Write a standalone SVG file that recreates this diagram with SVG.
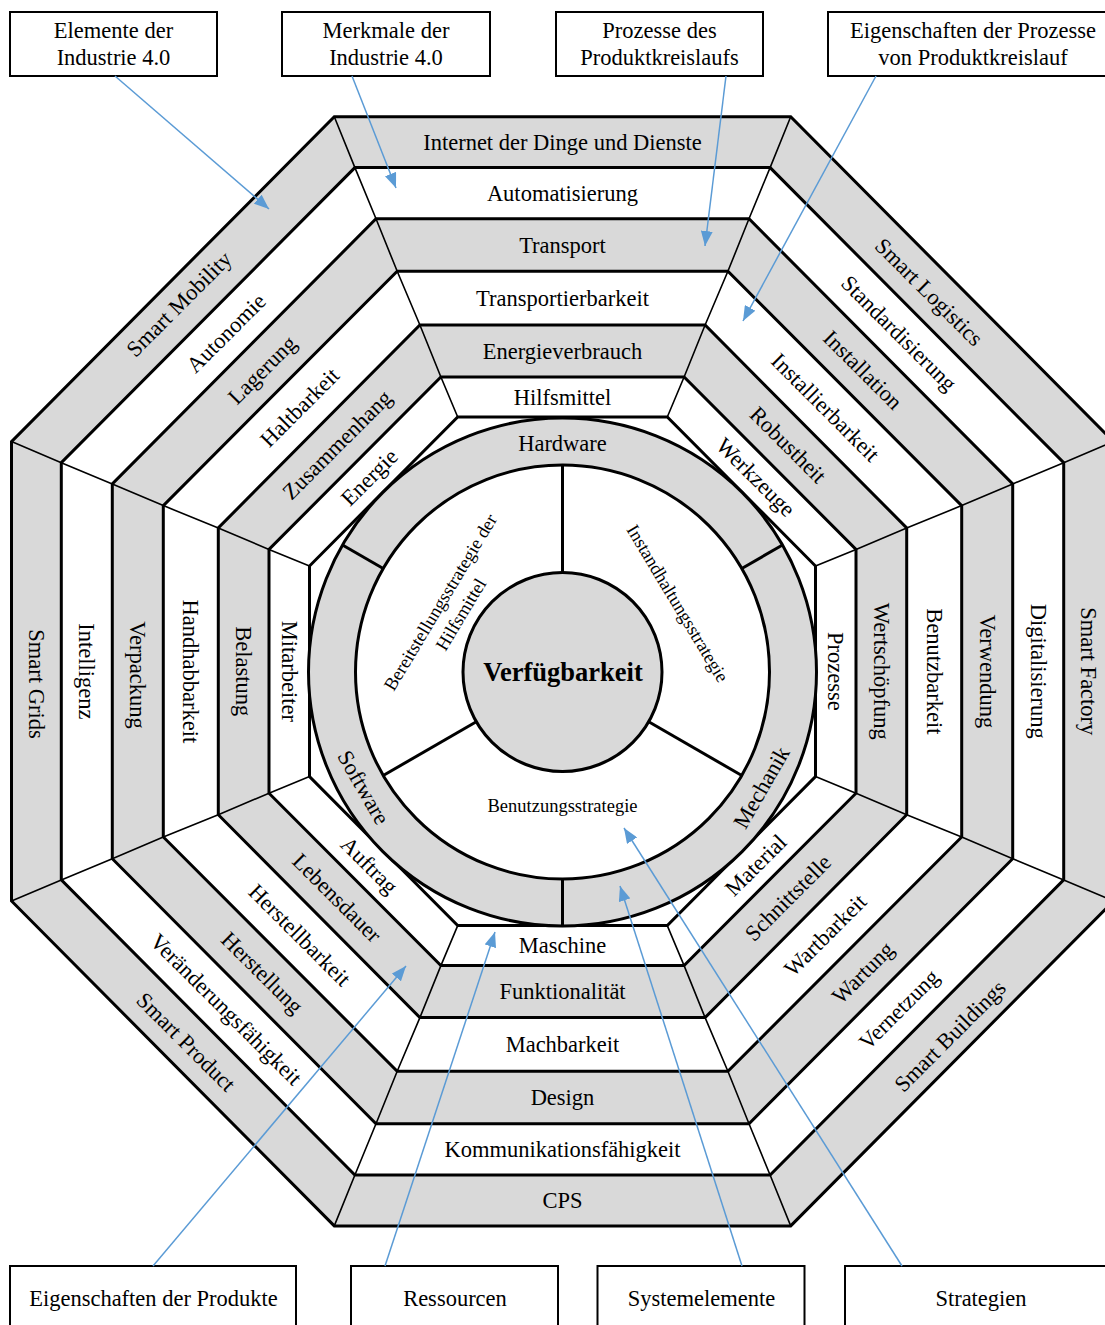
<svg xmlns="http://www.w3.org/2000/svg" width="1105" height="1325" viewBox="0 0 1105 1325">
  <defs>
    <marker id="arr" markerUnits="userSpaceOnUse" markerWidth="16" markerHeight="12" refX="15" refY="6" orient="auto">
      <path d="M0,0 L15,6 L0,12 z" fill="#5b9bd5"/>
    </marker>
    <style>
      .gray { fill:#d9d9d9; stroke:#000; stroke-width:3; stroke-linejoin:miter; }
      .white { fill:#fff; stroke:#000; stroke-width:3; stroke-linejoin:miter; }
      .spoke { fill:none; stroke:#000; stroke-width:1.6; }
      .div { stroke:#000; stroke-width:3; fill:none; }
      text { font-family:"Liberation Serif","Times New Roman",serif; font-size:22.5px; fill:#000; text-anchor:middle; dominant-baseline:central; }
      .inner { font-size:18.5px; }
      .core { font-size:26.5px; font-weight:bold; }
      .box rect { fill:#fff; stroke:#000; stroke-width:2; }
      .conn line { stroke:#5b9bd5; stroke-width:1.5; fill:none; marker-end:url(#arr); }
    </style>
  </defs>
  <rect width="1105" height="1325" fill="#fff"/>

  <!-- ring 1: Industrie 4.0 elements -->
  <g id="band-1">
    <polygon class="gray" points="334.3,116.7 790.7,116.7 1113.5,441.6 1113.5,901.0 790.7,1225.9 334.3,1225.9 11.5,901.0 11.5,441.6"/>
    <g id="n-internet"><text x="562.5" y="142.2">Internet der Dinge und Dienste</text></g>
    <g id="n-smart-logistics"><text transform="translate(929,292) rotate(45)">Smart Logistics</text></g>
    <g id="n-smart-factory"><text transform="translate(1088.6,671.3) rotate(90)">Smart Factory</text></g>
    <g id="n-smart-buildings"><text transform="translate(950,1036) rotate(-45)">Smart Buildings</text></g>
    <g id="n-cps"><text x="562.5" y="1200.5">CPS</text></g>
    <g id="n-smart-product"><text transform="translate(186,1042) rotate(45)">Smart Product</text></g>
    <g id="n-smart-grids"><text transform="translate(36.4,684) rotate(90)">Smart Grids</text></g>
    <g id="n-smart-mobility"><text transform="translate(179,304) rotate(-45)">Smart Mobility</text></g>
  </g>

  <!-- ring 2: Industrie 4.0 features -->
  <g id="band-2">
    <polygon class="white" points="354.9,167.6 770.1,167.6 1063.7,462.7 1063.7,879.9 770.1,1175.0 354.9,1175.0 61.3,879.9 61.3,462.7"/>
    <g id="n-automatisierung"><text x="562.5" y="193.2">Automatisierung</text></g>
    <g id="n-standardisierung"><text transform="translate(898.9,333.2) rotate(45)">Standardisierung</text></g>
    <g id="n-digitalisierung"><text transform="translate(1038.2,671.3) rotate(90)">Digitalisierung</text></g>
    <g id="n-vernetzung"><text transform="translate(898.9,1009.4) rotate(-45)">Vernetzung</text></g>
    <g id="n-kommunikation"><text x="562.5" y="1149.4">Kommunikationsfähigkeit</text></g>
    <g id="n-veraenderung"><text transform="translate(226.1,1009.4) rotate(45)">Veränderungsfähigkeit</text></g>
    <g id="n-intelligenz"><text transform="translate(86.8,671.3) rotate(90)">Intelligenz</text></g>
    <g id="n-autonomie"><text transform="translate(226.1,333.2) rotate(-45)">Autonomie</text></g>
  </g>

  <!-- ring 3: product lifecycle processes -->
  <g id="band-3">
    <polygon class="gray" points="376.0,218.8 749.0,218.8 1012.7,483.9 1012.7,858.7 749.0,1123.8 376.0,1123.8 112.3,858.7 112.3,483.9"/>
    <g id="n-transport"><text x="562.5" y="245.5">Transport</text></g>
    <g id="n-installation"><text transform="translate(862.8,369.9) rotate(45)">Installation</text></g>
    <g id="n-verwendung"><text transform="translate(987.2,671.3) rotate(90)">Verwendung</text></g>
    <g id="n-wartung"><text transform="translate(862.8,972.7) rotate(-45)">Wartung</text></g>
    <g id="n-design"><text x="562.5" y="1097.6">Design</text></g>
    <g id="n-herstellung"><text transform="translate(262.2,972.7) rotate(45)">Herstellung</text></g>
    <g id="n-verpackung"><text transform="translate(137.8,675) rotate(90)">Verpackung</text></g>
    <g id="n-lagerung"><text transform="translate(262.2,369.9) rotate(-45)">Lagerung</text></g>
  </g>

  <!-- ring 4: process properties -->
  <g id="band-4">
    <polygon class="white" points="397.2,271.3 727.9,271.3 961.7,505.6 961.7,837.0 727.9,1071.3 397.2,1071.3 163.3,837.0 163.3,505.6"/>
    <g id="n-transportierbarkeit"><text x="562.5" y="298.2">Transportierbarkeit</text></g>
    <g id="n-installierbarkeit"><text transform="translate(825.3,407.4) rotate(45)">Installierbarkeit</text></g>
    <g id="n-benutzbarkeit"><text transform="translate(934.2,671.3) rotate(90)">Benutzbarkeit</text></g>
    <g id="n-wartbarkeit"><text transform="translate(825.3,935.2) rotate(-45)">Wartbarkeit</text></g>
    <g id="n-machbarkeit"><text x="562.5" y="1044.5">Machbarkeit</text></g>
    <g id="n-herstellbarkeit"><text transform="translate(299.7,935.2) rotate(45)">Herstellbarkeit</text></g>
    <g id="n-handhabbarkeit"><text transform="translate(190.8,671.3) rotate(90)">Handhabbarkeit</text></g>
    <g id="n-haltbarkeit"><text transform="translate(299.7,407.4) rotate(-45)">Haltbarkeit</text></g>
  </g>

  <!-- ring 5: product properties -->
  <g id="band-5">
    <polygon class="gray" points="419.9,325.0 705.1,325.0 906.7,527.9 906.7,814.7 705.1,1017.6 419.9,1017.6 218.3,814.7 218.3,527.9"/>
    <g id="n-energieverbrauch"><text x="562.5" y="351.0">Energieverbrauch</text></g>
    <g id="n-robustheit"><text transform="translate(788,444.8) rotate(45)">Robustheit</text></g>
    <g id="n-wertschoepfung"><text transform="translate(881.4,671.3) rotate(90)">Wertschöpfung</text></g>
    <g id="n-schnittstelle"><text transform="translate(788,897.8) rotate(-45)">Schnittstelle</text></g>
    <g id="n-funktionalitaet"><text x="562.5" y="991.6">Funktionalität</text></g>
    <g id="n-lebensdauer"><text transform="translate(337,897.8) rotate(45)">Lebensdauer</text></g>
    <g id="n-belastung"><text transform="translate(243.7,671.3) rotate(90)">Belastung</text></g>
    <g id="n-zusammenhang"><text transform="translate(337,444.8) rotate(-45)">Zusammenhang</text></g>
  </g>

  <!-- ring 6: resources -->
  <g id="band-6">
    <polygon class="white" points="440.9,377.0 684.1,377.0 856.0,549.4 856.0,793.2 684.1,965.6 440.9,965.6 269.0,793.2 269.0,549.4"/>
    <g id="n-hilfsmittel"><text x="562.5" y="397.0">Hilfsmittel</text></g>
    <g id="n-werkzeuge"><text transform="translate(755.7,477.3) rotate(45)">Werkzeuge</text></g>
    <g id="n-prozesse"><text transform="translate(835.8,671.3) rotate(90)">Prozesse</text></g>
    <g id="n-material"><text transform="translate(755.7,865.3) rotate(-45)">Material</text></g>
    <g id="n-maschine"><text x="562.5" y="945.6">Maschine</text></g>
    <g id="n-auftrag"><text transform="translate(369.3,865.3) rotate(45)">Auftrag</text></g>
    <g id="n-mitarbeiter"><text transform="translate(289.3,671.3) rotate(90)">Mitarbeiter</text></g>
    <g id="n-energie"><text transform="translate(369.3,477.3) rotate(-45)">Energie</text></g>
  </g>

  <!-- innermost octagon -->
  <polygon class="white" points="457.7,417.0 667.3,417.0 815.5,566.0 815.5,776.6 667.3,925.6 457.7,925.6 309.5,776.6 309.5,566.0"/>

  <!-- thin spokes through the octagon corners -->
  <g id="spokes" class="spoke">
    <polyline points="334.3,116.7 354.9,167.6 376.0,218.8 397.2,271.3 419.9,325.0 440.9,377.0 457.7,417.0"/>
    <polyline points="790.7,116.7 770.1,167.6 749.0,218.8 727.9,271.3 705.1,325.0 684.1,377.0 667.3,417.0"/>
    <polyline points="1113.5,441.6 1063.7,462.7 1012.7,483.9 961.7,505.6 906.7,527.9 856.0,549.4 815.5,566.0"/>
    <polyline points="1113.5,901.0 1063.7,879.9 1012.7,858.7 961.7,837.0 906.7,814.7 856.0,793.2 815.5,776.6"/>
    <polyline points="790.7,1225.9 770.1,1175.0 749.0,1123.8 727.9,1071.3 705.1,1017.6 684.1,965.6 667.3,925.6"/>
    <polyline points="334.3,1225.9 354.9,1175.0 376.0,1123.8 397.2,1071.3 419.9,1017.6 440.9,965.6 457.7,925.6"/>
    <polyline points="11.5,901.0 61.3,879.9 112.3,858.7 163.3,837.0 218.3,814.7 269.0,793.2 309.5,776.6"/>
    <polyline points="11.5,441.6 61.3,462.7 112.3,483.9 163.3,505.6 218.3,527.9 269.0,549.4 309.5,566.0"/>
  </g>

  <!-- system elements ring -->
  <g id="systems">
    <circle class="gray" cx="562.5" cy="672" r="254"/>
    <circle class="white" cx="562.5" cy="672" r="207"/>
    <line class="div" x1="383.2" y1="568.5" x2="342.5" y2="545"/>
    <line class="div" x1="741.8" y1="568.5" x2="782.5" y2="545"/>
    <line class="div" x1="562.5" y1="879" x2="562.5" y2="926"/>
    <g id="n-hardware"><text x="562.5" y="443">Hardware</text></g>
    <g id="n-software"><text transform="translate(363.5,787.5) rotate(60)">Software</text></g>
    <g id="n-mechanik"><text transform="translate(761.5,787.5) rotate(-60)">Mechanik</text></g>
  </g>

  <!-- strategy sectors -->
  <g id="strategies">
    <line class="div" x1="562.5" y1="465" x2="562.5" y2="573"/>
    <line class="div" x1="476.3" y1="721.8" x2="383.2" y2="775.5"/>
    <line class="div" x1="648.7" y1="721.8" x2="741.8" y2="775.5"/>
    <g id="n-bereitstellung">
      <text class="inner" transform="translate(440.5,602.5) rotate(-59)">Bereitstellungsstrategie der</text>
      <text class="inner" transform="translate(461,614.5) rotate(-59)">Hilfsmittel</text>
    </g>
    <g id="n-instandhaltung"><text class="inner" transform="translate(677.5,603.5) rotate(59)">Instandhaltungsstrategie</text></g>
    <g id="n-benutzung"><text class="inner" x="562.5" y="806">Benutzungsstrategie</text></g>
  </g>

  <!-- core -->
  <g id="n-verfuegbarkeit">
    <circle class="gray" cx="562.5" cy="672" r="99.5"/>
    <text class="core" x="563" y="672">Verfügbarkeit</text>
  </g>

  <!-- category boxes -->
  <g id="box-elemente" class="box">
    <rect x="10" y="12" width="207" height="64"/>
    <text x="113.5" y="30">Elemente der</text>
    <text x="113.5" y="57">Industrie 4.0</text>
  </g>
  <g id="box-merkmale" class="box">
    <rect x="282" y="12" width="208" height="64"/>
    <text x="386" y="30">Merkmale der</text>
    <text x="386" y="57">Industrie 4.0</text>
  </g>
  <g id="box-prozesse" class="box">
    <rect x="556" y="12" width="207" height="64"/>
    <text x="659.5" y="30">Prozesse des</text>
    <text x="659.5" y="57">Produktkreislaufs</text>
  </g>
  <g id="box-eigenschaften-prozesse" class="box">
    <rect x="828" y="12" width="290" height="64"/>
    <text x="973" y="30">Eigenschaften der Prozesse</text>
    <text x="973" y="57">von Produktkreislauf</text>
  </g>
  <g id="box-eigenschaften-produkte" class="box">
    <rect x="10" y="1266" width="286" height="80"/>
    <text x="153.5" y="1298">Eigenschaften der Produkte</text>
  </g>
  <g id="box-ressourcen" class="box">
    <rect x="351" y="1266" width="207" height="80"/>
    <text x="455" y="1298">Ressourcen</text>
  </g>
  <g id="box-systemelemente" class="box">
    <rect x="597.5" y="1266" width="207" height="80"/>
    <text x="701.5" y="1298">Systemelemente</text>
  </g>
  <g id="box-strategien" class="box">
    <rect x="845" y="1266" width="272" height="80"/>
    <text x="981" y="1298">Strategien</text>
  </g>

  <!-- connectors -->
  <g id="connectors" class="conn">
    <line x1="115" y1="76" x2="269" y2="209"/>
    <line x1="352" y1="76" x2="396" y2="188"/>
    <line x1="726" y1="76" x2="705" y2="246"/>
    <line x1="876" y1="76" x2="743" y2="321"/>
    <line x1="153" y1="1266" x2="406" y2="966"/>
    <line x1="385" y1="1266" x2="495" y2="932"/>
    <line x1="742" y1="1266" x2="620" y2="886"/>
    <line x1="902" y1="1266" x2="624" y2="828"/>
  </g>
</svg>
